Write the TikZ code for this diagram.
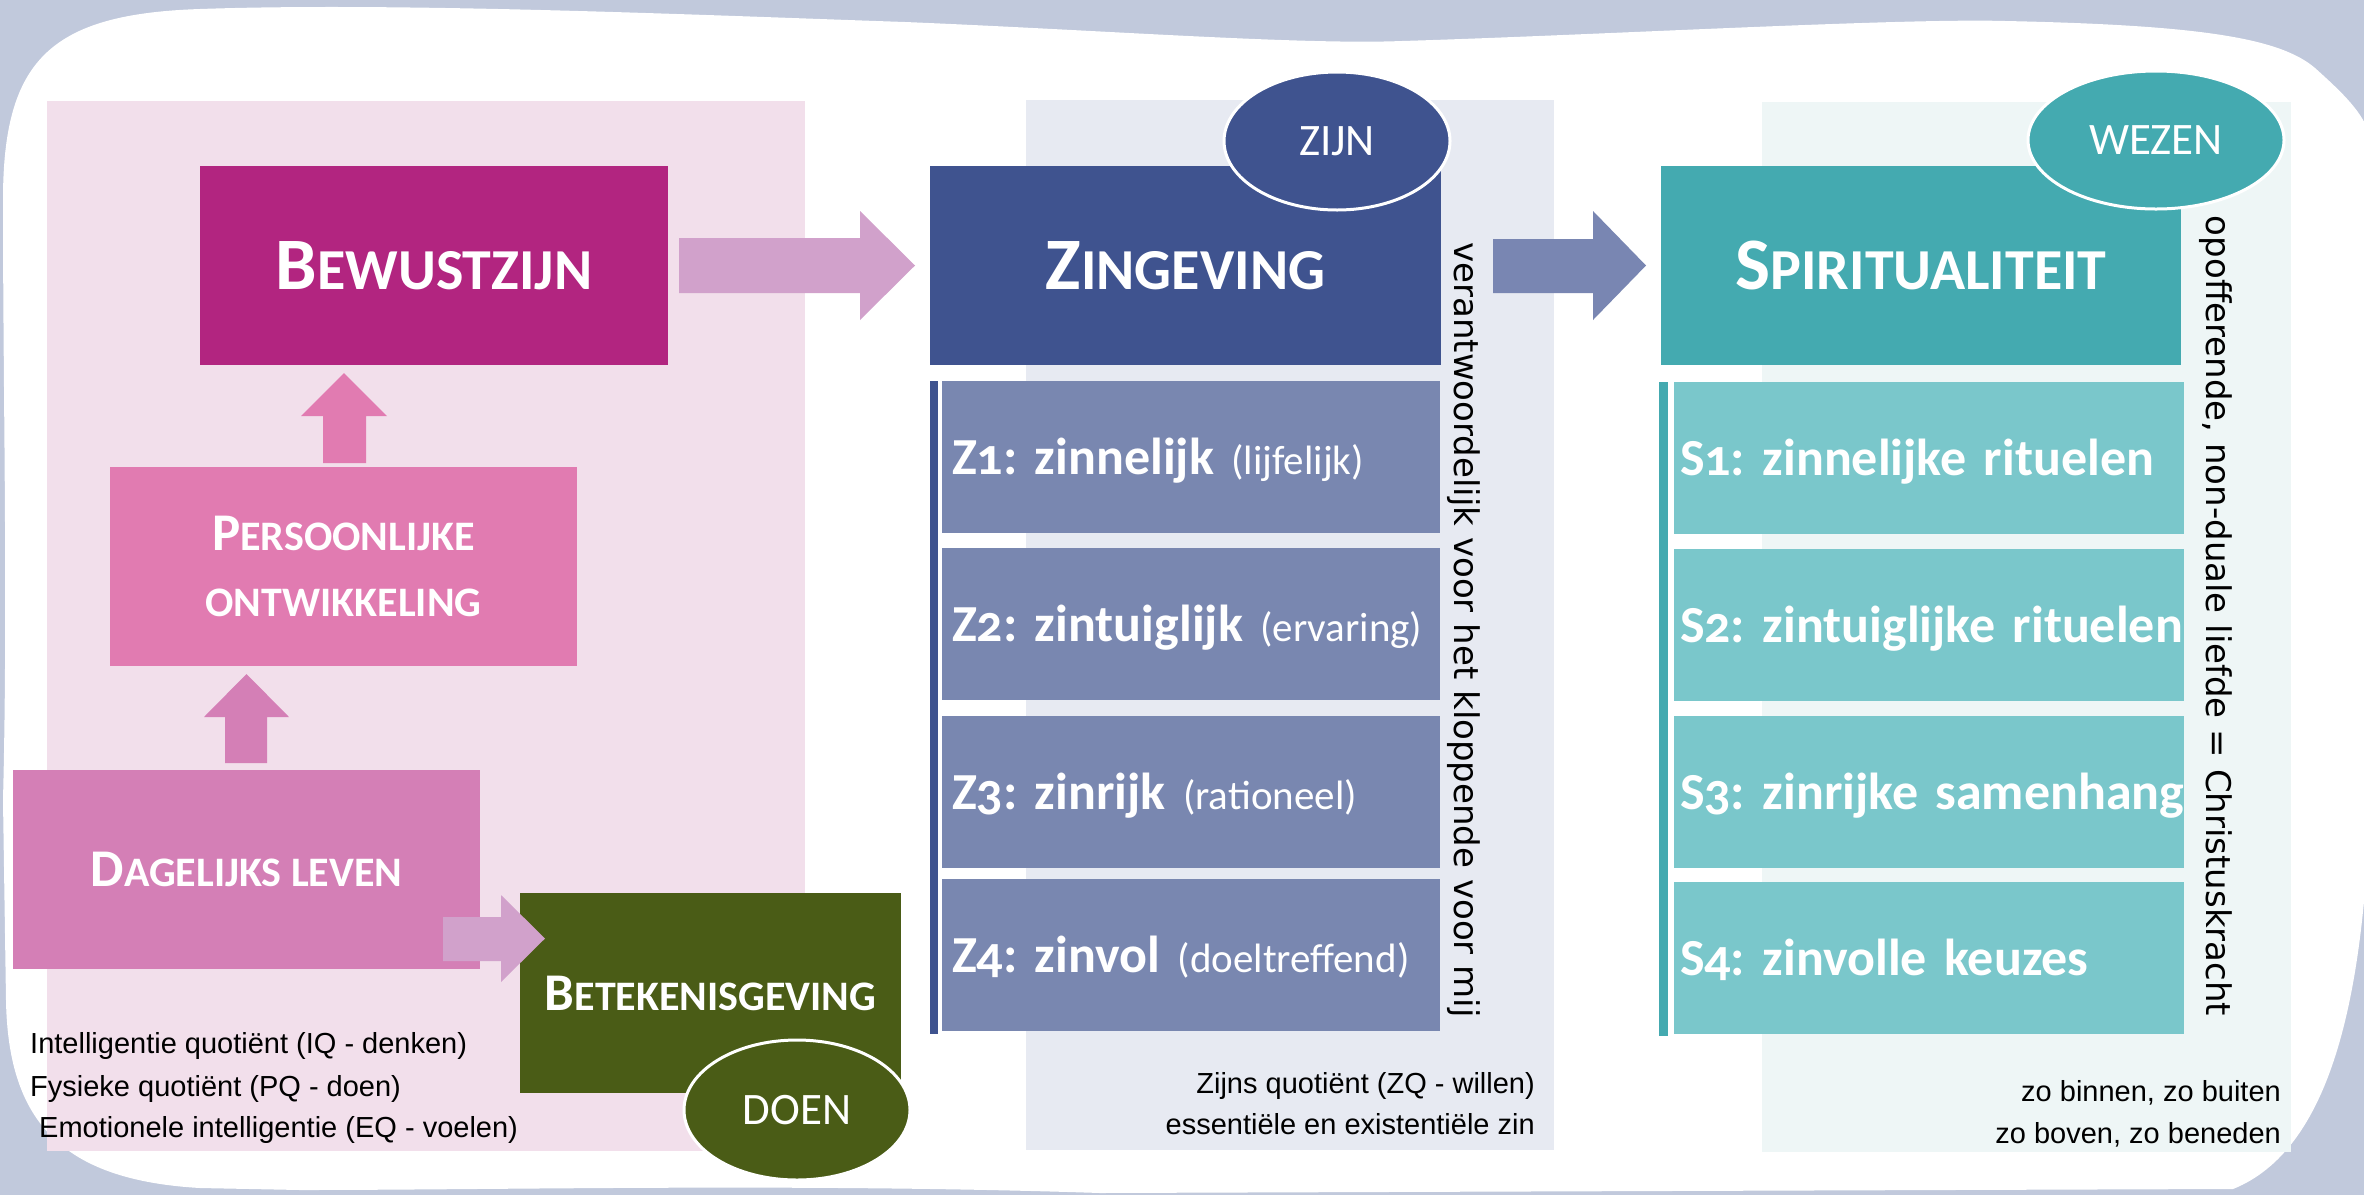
\documentclass[tikz,border=0pt]{standalone}
\usepackage{fontspec}
\setmainfont{Liberation Sans}
\newfontfamily\carl[Numbers=OldStyle]{Carlito}
\newfontfamily\dvs{DejaVu Sans}
\usetikzlibrary{shapes.geometric}
\definecolor{bgblue}{HTML}{C1C9DC}
\definecolor{pinkpanel}{HTML}{F2DFEB}
\definecolor{bluepanel}{HTML}{E7EAF2}
\definecolor{tealpanel}{HTML}{EEF6F6}
\definecolor{bewcol}{HTML}{B22580}
\definecolor{perscol}{HTML}{E17BB1}
\definecolor{dagcol}{HTML}{D47FB6}
\definecolor{lilarrow}{HTML}{D1A1CB}
\definecolor{betcol}{HTML}{4A5C16}
\definecolor{zincol}{HTML}{3F538F}
\definecolor{zlight}{HTML}{7987B0}
\definecolor{zarrow}{HTML}{7986B2}
\definecolor{spircol}{HTML}{44AAB0}
\definecolor{slight}{HTML}{7AC7CB}
\newcommand{\bigsc}[2]{{\fontsize{74bp}{80bp}\selectfont #1}{\fontsize{58bp}{64bp}\selectfont #2}}
\newcommand{\midsc}[2]{{\fontsize{53bp}{60bp}\selectfont #1}{\fontsize{42bp}{50bp}\selectfont #2}}
\newcommand{\zlab}[2]{\mbox{{\bfseries #1} {\fontsize{41bp}{48bp}\selectfont #2}}}
\newcommand{\slab}[1]{\mbox{#1}}
\begin{document}
\frenchspacing
\begin{tikzpicture}[x=1bp,y=-1bp,
  box/.style={rectangle, draw=none, inner sep=0pt, text=white},
  bigtitle/.style={box, font=\carl\bfseries, text height=47.5bp, text depth=0bp},
  midtitle/.style={box, font=\carl\bfseries, text height=34bp, text depth=0bp},
  zbox/.style={box, fill=zlight, minimum height=152bp, text width=478bp, inner xsep=10bp, align=left,
    font=\carl\frenchspacing\fontsize{52bp}{60bp}\selectfont, text height=34bp, text depth=0bp},
  sbox/.style={box, fill=slight, minimum height=152bp, text width=498bp, inner xsep=6bp, align=left,
    font=\carl\frenchspacing\bfseries\fontsize{52bp}{60bp}\selectfont, text height=34bp, text depth=0bp},
  oval/.style={ellipse, draw=white, line width=3bp, inner sep=0pt, text=white,
    font=\carl\fontsize{45bp}{50bp}\selectfont, text height=29bp, text depth=0bp},
  note/.style={inner sep=0pt, font=\fontsize{29bp}{34bp}\selectfont},
  vert/.style={inner sep=0pt, rotate=-90}
]
\useasboundingbox (0,0) rectangle (2364,1195);
% background and white card
\fill[bgblue] (0,0) rectangle (2364,1195);
\fill[white] (3,200) .. controls (3,60) and (50,14) .. (200,9)
  .. controls (400,2) and (700,15) .. (905,22)
  .. controls (1100,30) and (1300,45) .. (1402,41)
  .. controls (1600,35) and (1900,18) .. (2005,21)
  .. controls (2200,25) and (2280,38) .. (2315,68)
  .. controls (2345,95) and (2362,112) .. (2370,135)
  -- (2370,800)
  .. controls (2364,1000) and (2330,1150) .. (2233,1189)
  -- (1100,1193)
  .. controls (800,1183) and (500,1190) .. (300,1190)
  -- (200,1188)
  .. controls (60,1180) and (8,1120) .. (6,1000)
  -- (3,800) .. controls (8,600) and (3,400) .. (3,200) -- cycle;
% panels
\fill[pinkpanel] (47,101) rectangle (805,1151);
\fill[bluepanel] (1026,100) rectangle (1554,1150);
\fill[tealpanel] (1762,102) rectangle (2291,1152);
% left column boxes
\node[bigtitle, fill=bewcol, minimum width=468bp, minimum height=199bp] (bew) at (434,265.5) {\bigsc{B}{EWUSTZIJN}};
\node[box, fill=perscol, minimum width=467bp, minimum height=199bp, align=center,
  font=\carl\bfseries\fontsize{42bp}{66bp}\selectfont] (pers) at (343.5,566.5)
  {{\fontsize{53bp}{66bp}\selectfont P}ERSOONLIJKE\\ONTWIKKELING};
\node[midtitle, fill=dagcol, minimum width=467bp, minimum height=199bp] (dag) at (246.5,869.5) {\midsc{D}{AGELIJKS LEVEN}};
\node[midtitle, fill=betcol, minimum width=381bp, minimum height=200bp] (bet) at (710.5,993) {\midsc{B}{ETEKENISGEVING}};
% middle column
\node[bigtitle, fill=zincol, minimum width=511bp, minimum height=199bp] (zin) at (1185.5,265.5) {\bigsc{Z}{INGEVING}};
\fill[zincol] (930,381) rectangle (938,1034);
\node[zbox] (z1) at (1191,457) {\zlab{Z1: zinnelijk}{(lijfelijk)}};
\node[zbox] (z2) at (1191,624) {\zlab{Z2: zintuiglijk}{(ervaring)}};
\node[zbox] (z3) at (1191,792) {\zlab{Z3: zinrijk}{(rationeel)}};
\node[zbox] (z4) at (1191,955) {\zlab{Z4: zinvol}{(doeltreffend)}};
% right column
\node[bigtitle, fill=spircol, minimum width=520bp, minimum height=199bp] (spir) at (1921,265.5) {\bigsc{S}{PIRITUALITEIT}};
\fill[spircol] (1659,382) rectangle (1668,1036);
\node[sbox] (s1) at (1929,458) {\slab{S1: zinnelijke rituelen}};
\node[sbox] (s2) at (1929,625) {\slab{S2: zintuiglijke rituelen}};
\node[sbox] (s3) at (1929,792) {\slab{S3: zinrijke samenhang}};
\node[sbox] (s4) at (1929,958) {\slab{S4: zinvolle keuzes}};
% block arrows
\fill[perscol] (344,373) -- (387,416) -- (366,416) -- (366,463) -- (323,463) -- (323,416) -- (301,416) -- cycle;
\fill[dagcol] (246.5,674) -- (289,717) -- (267,717) -- (267,763) -- (225,763) -- (225,717) -- (204,717) -- cycle;
\fill[lilarrow] (679,238) -- (860,238) -- (860,211) -- (915,265.5) -- (860,320) -- (860,293) -- (679,293) -- cycle;
\fill[lilarrow] (443,917) -- (501,917) -- (501,895) -- (545,938.5) -- (501,982) -- (501,961) -- (443,961) -- cycle;
\fill[zarrow] (1493,239) -- (1593,239) -- (1593,211) -- (1646,265.5) -- (1593,320) -- (1593,293) -- (1493,293) -- cycle;
% ovals
\node[oval, fill=zincol, minimum width=226bp, minimum height=138bp] (zijn) at (1337,141) {ZIJN};
\node[oval, fill=spircol, minimum width=256bp, minimum height=138bp] (wezen) at (2156,140) {WEZEN};
\node[oval, fill=betcol, minimum width=226bp, minimum height=140bp] (doen) at (797,1110) {DOEN};
% vertical texts
\node[vert, font=\dvs\fontsize{34bp}{40bp}\selectfont] (verant) at (1464,630) {verantwoordelijk voor het kloppende voor mij};
\node[vert, font=\dvs\fontsize{34bp}{40bp}\selectfont] (opoff) at (2216,616) {opofferende, non-duale liefde = Christuskracht};
% notes
\node[note, anchor=base west] (iq) at (30,1053) {Intelligentie quotiënt (IQ - denken)};
\node[note, anchor=base west] (pq) at (30,1096) {Fysieke quotiënt (PQ - doen)};
\node[note, anchor=base west] (eq) at (39,1137) {Emotionele intelligentie (EQ - voelen)};
\node[note, anchor=base east] (zq) at (1535,1093) {Zijns quotiënt (ZQ - willen)};
\node[note, anchor=base east] (ez) at (1535,1134) {essentiële en existentiële zin};
\node[note, anchor=base east] (zb1) at (2281,1101) {zo binnen, zo buiten};
\node[note, anchor=base east] (zb2) at (2281,1143) {zo boven, zo beneden};
\end{tikzpicture}
\end{document}
